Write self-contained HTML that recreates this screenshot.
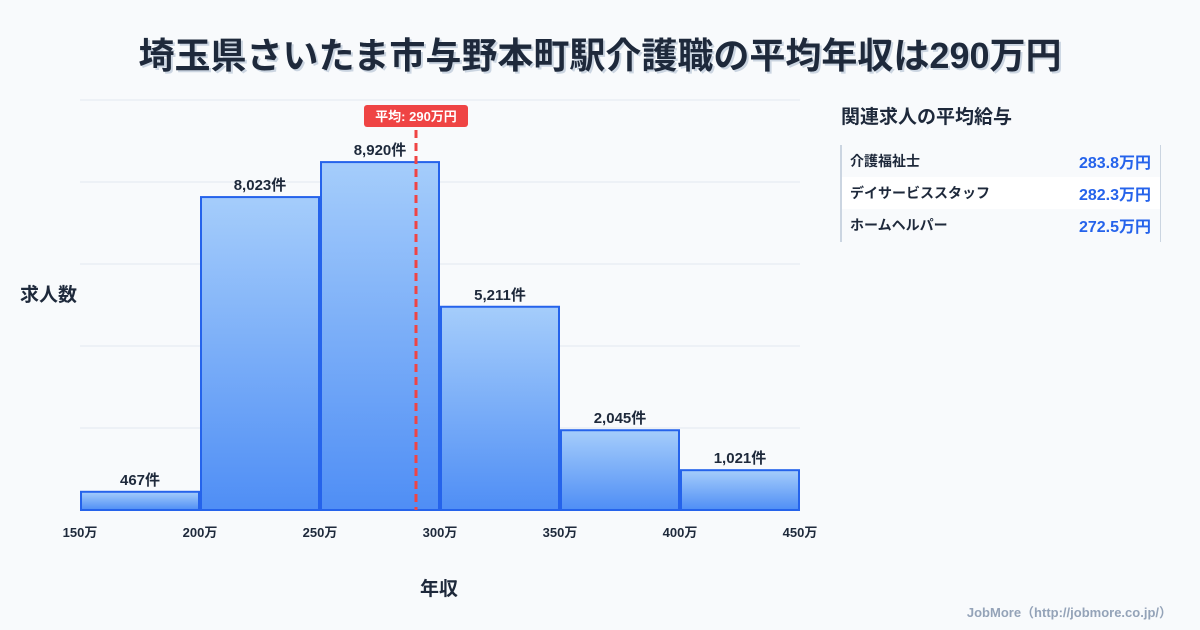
<!DOCTYPE html>
<html><head><meta charset="utf-8">
<style>
body{margin:0;width:1200px;height:630px;background:#f8fafc;font-family:"Liberation Sans","Noto Sans CJK JP",sans-serif;overflow:hidden;position:relative}
.t{position:absolute}
</style></head><body>
<div class="t" style="left:0;width:1200px;top:27px;text-align:center;font-size:36px;font-weight:bold;color:#1e293b;text-shadow:2px 2px 0 #cbd5e1">埼玉県さいたま市与野本町駅介護職の平均年収は290万円</div>
<div class="t" style="left:20px;top:280px;font-size:19px;font-weight:bold;color:#1e293b">求人数</div>
<div class="t" style="left:420px;top:574px;font-size:19px;font-weight:bold;color:#1e293b">年収</div>
<svg class="t" style="left:0;top:0" width="1200" height="630" id="chart">
<defs><linearGradient id="g" x1="0" y1="0" x2="0" y2="1"><stop offset="0" stop-color="#a5cdfb"/><stop offset="1" stop-color="#4f8ef5"/></linearGradient></defs>
</svg>
<div class="t" style="left:841px;top:102px;font-size:19px;font-weight:bold;color:#1e293b">関連求人の平均給与</div>
<div class="t" style="left:840px;top:145px;width:318px;height:97px;border-left:2px solid #cbd5e1;border-right:1px solid #cbd5e1">
<div style="height:32px;display:flex;justify-content:space-between;align-items:center;padding:0 9px 0 8px;font-size:14px;font-weight:bold;color:#1e293b"><span>介護福祉士</span><span style="color:#2563eb;font-size:16px">283.8万円</span></div>
<div style="height:32px;background:#fff;display:flex;justify-content:space-between;align-items:center;padding:0 9px 0 8px;font-size:14px;font-weight:bold;color:#1e293b"><span>デイサービススタッフ</span><span style="color:#2563eb;font-size:16px">282.3万円</span></div>
<div style="height:32px;display:flex;justify-content:space-between;align-items:center;padding:0 9px 0 8px;font-size:14px;font-weight:bold;color:#1e293b"><span>ホームヘルパー</span><span style="color:#2563eb;font-size:16px">272.5万円</span></div>
</div>
<div class="t" style="right:28px;top:602px;font-size:13px;font-weight:bold;color:#94a3b8">JobMore（http://jobmore.co.jp/）</div>
<script>
const binStarts=[150,200,250,300,350,400];
const counts=[467,8023,8920,5211,2045,1021];
const xTicks=[150,200,250,300,350,400,450];
const mean=290;
const NS="http://www.w3.org/2000/svg";
const svg=document.getElementById('chart');
const X=v=>80+(v-150)*720/300;
const Y=v=>510-v*410/10512;
function el(t,a){const e=document.createElementNS(NS,t);for(const k in a)e.setAttribute(k,a[k]);svg.appendChild(e);return e;}
for(let i=0;i<=5;i++){const g=el('line',{x1:80,x2:800,y1:510-i*82,y2:510-i*82,stroke:'#e2e8f0'});

}
binStarts.forEach((b,i)=>{
const r=el('rect',{x:X(b)+1,y:Y(counts[i]),width:X(b+50)-X(b)-2,height:510-Y(counts[i]),fill:'url(#g)',stroke:'#2563eb','stroke-width':2});


const t=el('text',{x:(X(b)+X(b+50))/2,y:Y(counts[i])-7,'text-anchor':'middle','font-size':15,'font-weight':'bold',fill:'#1e293b'});
t.textContent=counts[i].toLocaleString('en-US')+'件';


});
xTicks.forEach(v=>{const t=el('text',{x:X(v),y:537,'text-anchor':'middle','font-size':13,'font-weight':'bold',fill:'#1e293b'});t.textContent=v+'万';

});
const ml=el('line',{x1:X(mean),x2:X(mean),y1:130,y2:510,stroke:'#ef4444','stroke-width':3,'stroke-dasharray':'8,5'});


const mb=el('rect',{x:X(mean)-52,y:105,width:104,height:22,rx:3,fill:'#ef4444'});


const mt=el('text',{x:X(mean),y:121,'text-anchor':'middle','font-size':13,'font-weight':'bold',fill:'#fff'});mt.textContent='平均: '+mean+'万円';


</script>
</body></html>
